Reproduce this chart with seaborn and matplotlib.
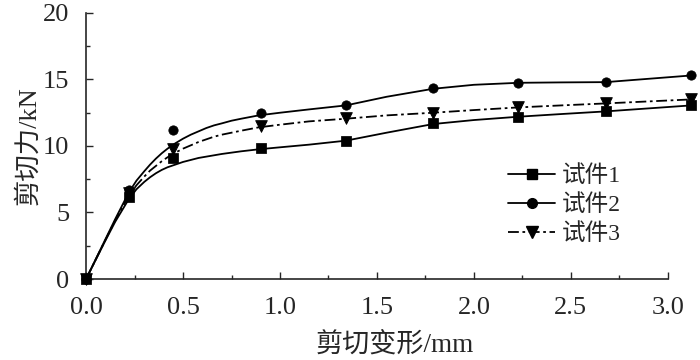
import matplotlib.pyplot as plt
from matplotlib.lines import Line2D
from matplotlib.ticker import MultipleLocator
import seaborn as sns

# measured points (markers)
x_pts = [0, 0.22, 0.45, 0.9, 1.34, 1.79, 2.23, 2.68, 3.12]
s1_pts = [0, 6.2, 9.1, 9.85, 10.4, 11.7, 12.2, 12.6, 13.1]
s2_pts = [0, 6.7, 11.2, 12.5, 13.05, 14.35, 14.75, 14.8, 15.3]
s3_pts = [0, 6.5, 9.8, 11.5, 12.1, 12.5, 12.9, 13.2, 13.5]

# fitted curves
x_fit = [0, 0.1, 0.15, 0.22, 0.26, 0.3, 0.33, 0.36, 0.39, 0.42, 0.46, 0.5,
         0.54, 0.58, 0.62, 0.66, 0.7, 0.75, 0.8, 0.89, 1.0, 1.15, 1.34,
         1.55, 1.79, 2.0, 2.23, 2.45, 2.68, 3.12]
s1_fit = [0, 2.9, 4.3, 6.0, 6.75, 7.3, 7.65, 7.95, 8.2, 8.4, 8.6, 8.8,
          8.95, 9.1, 9.2, 9.3, 9.4, 9.5, 9.6, 9.75, 9.9, 10.1, 10.4,
          11.0, 11.65, 11.95, 12.2, 12.4, 12.6, 13.05]
s2_fit = [0, 3.0, 4.5, 6.5, 7.4, 8.1, 8.6, 9.05, 9.45, 9.8, 10.2, 10.55,
          10.85, 11.1, 11.35, 11.55, 11.7, 11.9, 12.05, 12.3, 12.5, 12.75, 13.05,
          13.7, 14.3, 14.6, 14.75, 14.78, 14.8, 15.3]
s3_fit = [0, 2.95, 4.4, 6.25, 7.05, 7.7, 8.15, 8.5, 8.85, 9.15, 9.5, 9.8,
          10.05, 10.3, 10.5, 10.7, 10.85, 11.0, 11.15, 11.4, 11.6, 11.85, 12.05,
          12.3, 12.5, 12.7, 12.9, 13.05, 13.2, 13.5]

labels = ['试件1', '试件2', '试件3']

sns.set_style('ticks')
plt.rcParams['font.family'] = ['Liberation Serif', 'Noto Sans CJK SC']
plt.rcParams['xtick.direction'] = 'in'
plt.rcParams['ytick.direction'] = 'in'

fig, ax = plt.subplots(figsize=(7, 3.6), dpi=100)
fig.subplots_adjust(left=0.123, right=0.954, top=0.964, bottom=0.225)

dashdot = (0, (6, 2, 1.5, 2))
styles = [('s', '-', 45), ('o', '-', 45), ('v', dashdot, 70)]
fits = [s1_fit, s2_fit, s3_fit]
pts = [s1_pts, s2_pts, s3_pts]

handles = []
for fit, p, lab, (mk, ls, ms) in zip(fits, pts, labels, styles):
    sns.lineplot(x=x_fit, y=fit, ax=ax, color='black', linewidth=1.3,
                 linestyle=ls, sort=False, clip_on=False)
    sns.scatterplot(x=x_pts, y=p, ax=ax, marker=mk, s=ms, color='black',
                    edgecolor='black', clip_on=False, zorder=5)
    handles.append(Line2D([], [], color='black', linewidth=1.3, linestyle=ls,
                          marker=mk, markersize=8 if mk == 'v' else 7))

ax.set_xlim(0, 3.0)
ax.set_ylim(0, 20)
ax.xaxis.set_major_locator(MultipleLocator(0.5))
ax.xaxis.set_minor_locator(MultipleLocator(0.25))
ax.yaxis.set_major_locator(MultipleLocator(5))
ax.yaxis.set_minor_locator(MultipleLocator(2.5))
ax.xaxis.set_major_formatter(plt.FuncFormatter(lambda v, _: f'{v:.1f}'))
ax.tick_params(which='major', length=5, width=1, labelsize=19)
ax.tick_params(axis='x', which='major', pad=13)
ax.tick_params(axis='y', which='major', pad=12)
ax.tick_params(which='minor', length=3, width=1)
sns.despine(ax=ax)
for sp in ['left', 'bottom']:
    ax.spines[sp].set_linewidth(1.2)

ax.set_xlabel('剪切变形/mm', fontsize=19.5)
ax.set_ylabel('剪切力/kN', fontsize=19, labelpad=2)
ax.xaxis.set_label_coords(0.53, -0.2)

ax.legend(handles, labels, loc='upper left', bbox_to_anchor=(0.705, 0.4725),
          frameon=False, fontsize=17, handlelength=2.0, labelspacing=0.31,
          handletextpad=0.3, borderpad=0)

plt.savefig('out.png', dpi=100)
